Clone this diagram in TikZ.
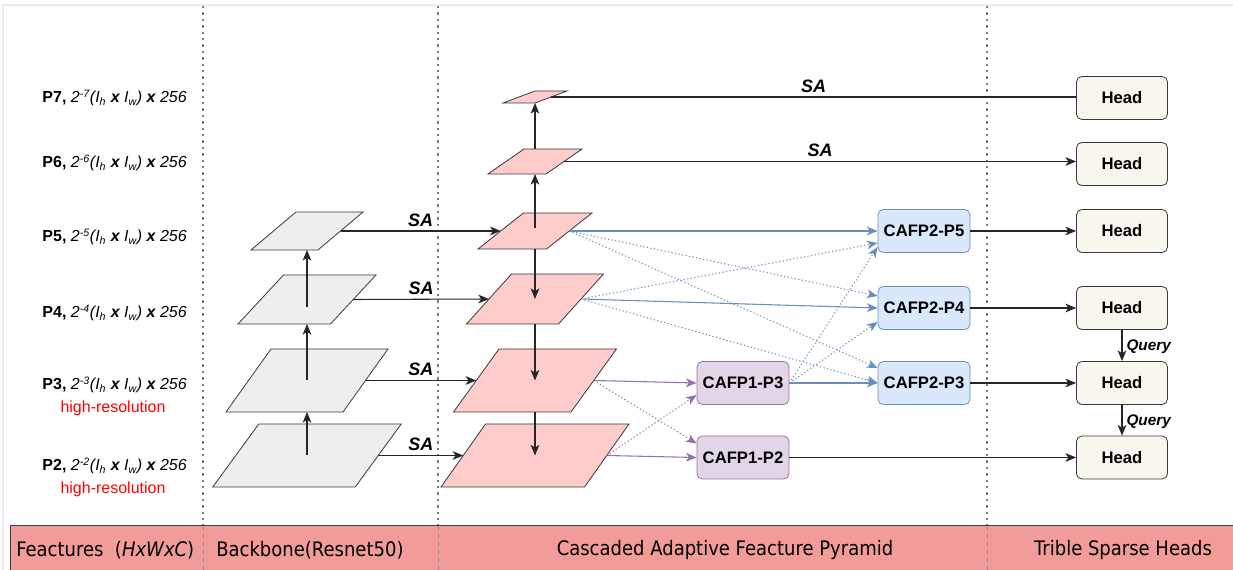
\documentclass[tikz,border=0pt]{standalone}
\usepackage{fontspec}
\setmainfont{Liberation Sans}
\newfontfamily\bandfont{DejaVu Sans}[FakeStretch=0.9]
\usetikzlibrary{arrows.meta,calc}
\definecolor{edgegray}{HTML}{36393D}
\definecolor{parafill}{HTML}{EEEEEE}
\definecolor{pinkfill}{HTML}{FFCCCC}
\definecolor{headfill}{HTML}{F9F7ED}
\definecolor{bluefill}{HTML}{DAE8FC}
\definecolor{bluedraw}{HTML}{6C8EBF}
\definecolor{purpfill}{HTML}{E1D5E7}
\definecolor{purpdraw}{HTML}{9673A6}
\definecolor{bandfill}{HTML}{F19C99}
\definecolor{sepgray}{HTML}{7A7A7A}
\newcommand\paral[7]{%
  \node[inner sep=0pt, outer sep=0pt, minimum width=#4*0.75pt, minimum height=#5*0.75pt] (#1) at (#2,#3) {};
  \draw[#7] (#2-#4/2+#6/2, #3-#5/2) -- (#2+#4/2+#6/2, #3-#5/2) -- (#2+#4/2-#6/2, #3+#5/2) -- (#2-#4/2-#6/2, #3+#5/2) -- cycle;
}
\tikzset{
  tip/.style={-{Stealth[length=8pt,width=6.5pt,inset=2.2pt]}},
  conn/.style={draw=black!85, line width=0.8pt},
  bconn/.style={draw=bluedraw, line width=0.8pt},
  pconn/.style={draw=purpdraw, line width=0.8pt},
  dots/.style={dash pattern=on 0.9pt off 1.8pt},
  graypara/.style={fill=parafill, draw=edgegray, line width=0.6pt},
  pinkpara/.style={fill=pinkfill, draw=edgegray, line width=0.6pt},
  headbox/.style={draw=edgegray, fill=headfill, rounded corners=4pt, line width=0.6pt, minimum width=91*0.75pt, minimum height=43*0.75pt, font=\bfseries\fontsize{12.5}{14}\selectfont, inner sep=0pt},
  bluebox/.style={draw=bluedraw, fill=bluefill, rounded corners=4pt, line width=0.6pt, minimum width=92*0.75pt, minimum height=43*0.75pt, font=\bfseries\fontsize{12.5}{14}\selectfont, inner sep=0pt},
  purpbox/.style={draw=purpdraw, fill=purpfill, rounded corners=4pt, line width=0.6pt, minimum width=92*0.75pt, minimum height=43*0.75pt, font=\bfseries\fontsize{12.5}{14}\selectfont, inner sep=0pt},
  salabel/.style={font=\bfseries\itshape\fontsize{13.5}{15}\selectfont, above, inner sep=3pt},
  qlabel/.style={font=\bfseries\itshape\fontsize{11.5}{13}\selectfont, right, inner sep=3pt},
  levlabel/.style={anchor=east, font=\fontsize{12}{14}\selectfont, inner sep=0pt},
  redlabel/.style={text=red, font=\fontsize{12}{14}\selectfont, inner sep=0pt},
  bandtext/.style={font=\bandfont\fontsize{15}{17}\selectfont, inner sep=0pt},
  sepline/.style={draw=sepgray, line width=1.8pt, dash pattern=on 1.8pt off 3pt},
}
\begin{document}
\begin{tikzpicture}[x=0.75pt, y=-0.75pt]
\useasboundingbox (0,0) rectangle (1233,570);
\fill[white] (0,0) rectangle (1233,570);
% frame lines
\draw[draw=black!8, line width=1.5pt] (3,600) -- (3,5) -- (1240,5);
% separators
\coordinate (s1t) at (203,6); \coordinate (s1b) at (203,570);
\coordinate (s2t) at (438,6); \coordinate (s2b) at (438,570);
\coordinate (s3t) at (987,6); \coordinate (s3b) at (987,570);
\draw[sepline] (s1t) -- (s1b);
\draw[sepline] (s2t) -- (s2b);
\draw[sepline] (s3t) -- (s3b);
% bottom band
\fill[bandfill] (10,525) rectangle (1240,575);
\draw[black!75, line width=0.6pt] (10,575) -- (10,525) -- (1240,525);
\draw[draw=black!45, line width=0.5pt, dash pattern=on 3pt off 3pt] (203,526) -- (203,570) (438,526) -- (438,570) (987,526) -- (987,570);
\node[bandtext, anchor=west] (t1) at (16,550) {Feactures\ \ (\textit{HxWxC})};
\node[bandtext, anchor=west] (t2) at (216,550) {Backbone(Resnet50)};
\node[bandtext] (t3) at (725,550) {Cascaded Adaptive Feacture Pyramid};
\node[bandtext] (t4) at (1123,550) {Trible Sparse Heads};
% level labels
\node[levlabel] (l7) at (187,98) {\textbf{P7,} \textit{2\textsuperscript{-7}(I\textsubscript{h} \textbf{x} I\textsubscript{w}) \textbf{x} 256}};
\node[levlabel] (l6) at (187,163) {\textbf{P6,} \textit{2\textsuperscript{-6}(I\textsubscript{h} \textbf{x} I\textsubscript{w}) \textbf{x} 256}};
\node[levlabel] (l5) at (187,237) {\textbf{P5,} \textit{2\textsuperscript{-5}(I\textsubscript{h} \textbf{x} I\textsubscript{w}) \textbf{x} 256}};
\node[levlabel] (l4) at (187,313) {\textbf{P4,} \textit{2\textsuperscript{-4}(I\textsubscript{h} \textbf{x} I\textsubscript{w}) \textbf{x} 256}};
\node[levlabel] (l3) at (187,385) {\textbf{P3,} \textit{2\textsuperscript{-3}(I\textsubscript{h} \textbf{x} I\textsubscript{w}) \textbf{x} 256}};
\node[levlabel] (l2) at (187,466) {\textbf{P2,} \textit{2\textsuperscript{-2}(I\textsubscript{h} \textbf{x} I\textsubscript{w}) \textbf{x} 256}};
\node[redlabel] (r3) at (113,408) {high-resolution};
\node[redlabel] (r2) at (113,489) {high-resolution};
% backbone
\paral{bP5}{307}{231}{67}{38}{45}{graypara}
\paral{bP4}{307}{299.5}{92.5}{49}{45.5}{graypara}
\paral{bP3}{307}{380.5}{117}{63}{45}{graypara}
\paral{bP2}{307}{455.5}{142.5}{63}{46}{graypara}
% pink pyramid
\paral{pP7}{535}{97}{32}{12}{32}{pinkpara}
\paral{pP6}{535}{161.5}{58}{25}{36}{pinkpara}
\paral{pP5}{535}{231}{68.5}{36}{45.5}{pinkpara}
\paral{pP4}{535}{299}{92}{50}{45}{pinkpara}
\paral{pP3}{535}{380.5}{117.5}{63}{45.5}{pinkpara}
\paral{pP2}{535}{455.5}{143.5}{63}{44.5}{pinkpara}
% CAFP boxes
\node[bluebox] (c25) at (924,231) {CAFP2-P5};
\node[bluebox] (c24) at (924,308) {CAFP2-P4};
\node[bluebox] (c23) at (924,383) {CAFP2-P3};
\node[purpbox] (c13) at (743,383) {CAFP1-P3};
\node[purpbox] (c12) at (743,457.5) {CAFP1-P2};
% heads
\node[headbox] (h7) at (1122,98) {Head};
\node[headbox] (h6) at (1122,164) {Head};
\node[headbox] (h5) at (1122,231) {Head};
\node[headbox] (h4) at (1122,308) {Head};
\node[headbox] (h3) at (1122,383) {Head};
\node[headbox] (h2) at (1122,457.5) {Head};
% backbone upward arrows
\draw[conn, tip] (bP2.center) -- (bP3.south);
\draw[conn, tip] (bP3.center) -- (bP4.south);
\draw[conn, tip] ($(bP4.center)+(0,8)$) -- (bP5.south);
% SA arrows backbone -> pyramid
\draw[conn, tip] (bP5.east) -- node[salabel] {SA} (pP5.west);
\draw[conn, tip] (bP4.east) -- node[salabel] {SA} (pP4.west);
\draw[conn, tip] (bP3.east) -- node[salabel] {SA} (pP3.west);
\draw[conn, tip] (bP2.east) -- node[salabel] {SA} (pP2.west);
% pyramid vertical arrows
\draw[conn, tip] ($(pP5.center)+(0,-3)$) -- (pP6.south);
\draw[conn, tip] (pP6.north) -- (pP7.south);
\draw[conn, tip] (pP5.south) -- (pP4.center);
\draw[conn, tip] (pP4.south) -- (pP3.center);
\draw[conn, tip] (pP3.south) -- (pP2.center);
% top levels to heads
\draw[conn] (pP7.east) -- node[salabel] {SA} (pP7.east -| h7.west);
\draw[conn, tip] (pP6.east) -- node[salabel] {SA} (pP6.east -| h6.west);
% blue connections
\draw[bconn, tip] (pP5.east) -- (c25.west);
\draw[bconn, dots, tip] (pP5.east) -- ($(c24.west)+(0,-12)$);
\draw[bconn, dots, tip] (pP5.east) -- ($(c23.west)+(0,-15)$);
\draw[bconn, dots, tip] (pP4.east) -- ($(c25.west)+(0,12)$);
\draw[bconn, tip] (pP4.east) -- (c24.west);
\draw[bconn, dots, tip] (pP4.east) -- (c23.west);
\draw[bconn, tip] (c13.east) -- (c23.west);
\draw[bconn, dots, tip] (c13.east) -- ($(c25.west)+(0,16)$);
\draw[bconn, dots, tip] (c13.east) -- ($(c24.west)+(0,14)$);
% purple connections
\draw[pconn, tip] (pP3.east) -- (c13.west);
\draw[pconn, dots, tip] (pP3.east) -- ($(c12.west)+(0,-14)$);
\draw[pconn, tip] (pP2.east) -- (c12.west);
\draw[pconn, dots, tip] (pP2.east) -- ($(c13.west)+(0,12)$);
% to heads
\draw[conn, tip] (c25.east) -- (h5.west);
\draw[conn, tip] (c24.east) -- (h4.west);
\draw[conn, tip] (c23.east) -- (h3.west);
\draw[conn, tip] (c12.east) -- (h2.west);
% query arrows
\draw[conn, tip] (h4.south) -- node[qlabel, pos=0.55] {Query} (h3.north);
\draw[conn, tip] (h3.south) -- node[qlabel, pos=0.55] {Query} (h2.north);
\end{tikzpicture}
\end{document}
